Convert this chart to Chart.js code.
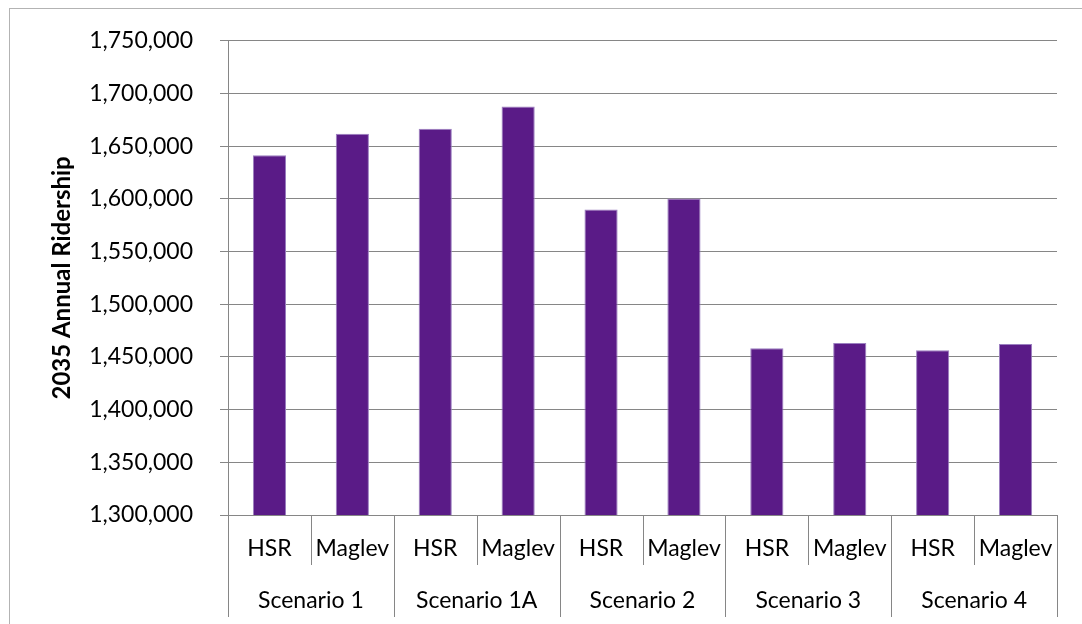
<!DOCTYPE html>
<html>
<head>
<meta charset="utf-8">
<script src="https://cdn.jsdelivr.net/npm/chart.js@4.4.1/dist/chart.umd.min.js"></script>
<style>
    html, body { margin:0; padding:0; background:#fff; }
    #wrap { position:relative; width:1082px; height:624px; }
    #frame { position:absolute; left:9px; top:8px; right:0; bottom:0; border-left:1px solid #b3b3b3; border-top:1px solid #b3b3b3; pointer-events:none; }
    canvas { position:absolute; left:0; top:0; }
</style>
</head>
<body>
<div id="wrap">
    <canvas id="ridershipChart" width="1082" height="624"></canvas>
    <div id="frame"></div>
</div>
<script>
const modes = ["HSR", "Maglev", "HSR", "Maglev", "HSR", "Maglev", "HSR", "Maglev", "HSR", "Maglev"];
const scenarios = ["Scenario 1", "Scenario 1A", "Scenario 2", "Scenario 3", "Scenario 4"];
const ridership = [1641500, 1661900, 1666600, 1687700, 1589900, 1600300, 1458200, 1463200, 1456300, 1462300];

const axisGray = "#868686";
const fontFamily = "Lato, 'Open Sans', sans-serif";

// draws the multi-level category separators below the x axis
const groupLines = {
    id:"groupLines",
    afterDraw(chart){
        const xs = chart.scales.x;
        const ctx = chart.ctx;
        const bottom = xs.bottom;
        ctx.save();
        ctx.strokeStyle = axisGray;
        ctx.lineWidth = 1;
        for(let i = 0; i <= modes.length; i++){
            const x = Math.round(xs.getPixelForValue(i - 0.5)) + 0.5;
            const yEnd = i % 2 === 0 ? chart.height - 7 : bottom - 10;
            ctx.beginPath();
            ctx.moveTo(x, xs.top);
            ctx.lineTo(x, yEnd);
            ctx.stroke();
        }
        ctx.restore();
    }
};

const ctx = document.getElementById("ridershipChart").getContext("2d");
new Chart(ctx,{
    type:"bar",
    data:{
        labels:modes,
        datasets:[{
            label:"2035 Annual Ridership",
            data:ridership,
            backgroundColor:"#5a1b87",
            borderColor:"#9b7fc0",
            borderWidth:1,
            barPercentage:0.4,
            categoryPercentage:1
        }]
    },
    options:{
        responsive:false,
        animation:false,
        layout:{ padding:{ top:34, right:25, left:48, bottom:0 } },
        plugins:{
            legend:{ display:false },
            tooltip:{ enabled:false }
        },
        scales:{
            y:{
                min:1300000,
                max:1750000,
                afterFit(scale){ scale.width = 180; },
                ticks:{
                    stepSize:50000,
                    padding:27,
                    color:"#000",
                    font:{ family:fontFamily, size:23 },
                    callback:(v) => Number(v).toLocaleString("en-US")
                },
                grid:{ color:axisGray, tickLength:8 },
                border:{ color:axisGray },
                title:{
                    display:true,
                    text:"2035 Annual Ridership",
                    color:"#000",
                    font:{ family:fontFamily, size:24, weight:"bold" },
                    padding:{ top:0, bottom:0 }
                }
            },
            x:{
                afterFit(scale){ scale.height = 60; },
                offset:true,
                ticks:{
                    padding:20,
                    color:"#000",
                    font:{ family:fontFamily, size:23 },
                    maxRotation:0,
                    autoSkip:false
                },
                grid:{ display:false, drawTicks:false },
                border:{ color:axisGray }
            },
            x2:{
                type:"category",
                position:"bottom",
                labels:scenarios,
                offset:true,
                afterFit(scale){ scale.height = 49; },
                ticks:{
                    padding:12,
                    color:"#000",
                    font:{ family:fontFamily, size:23 },
                    maxRotation:0,
                    autoSkip:false
                },
                grid:{ display:false, drawTicks:false },
                border:{ display:false }
            }
        }
    },
    plugins:[groupLines]
});
</script>
</body>
</html>
